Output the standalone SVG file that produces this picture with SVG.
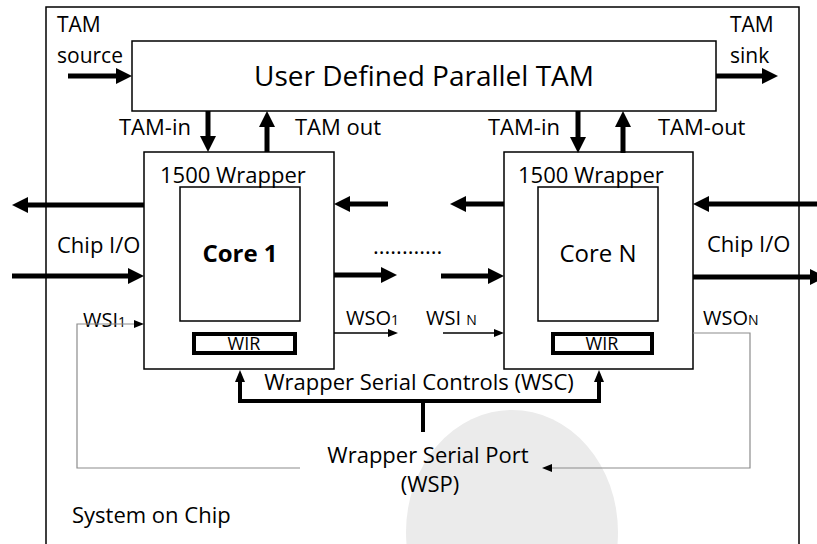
<svg xmlns="http://www.w3.org/2000/svg" width="817" height="544" viewBox="0 0 817 544">
<style>
text{font-family:"Open Sans","Liberation Sans",sans-serif;fill:#000}
.box{fill:none;stroke:#000;stroke-width:1.5}
.wir{fill:none;stroke:#000;stroke-width:4}
.thick{fill:none;stroke:#000;stroke-width:5}
.bus{fill:none;stroke:#000;stroke-width:4}
.thin{fill:none;stroke:#000;stroke-width:1.5}
.gray{fill:none;stroke:#8c8c8c;stroke-width:1.2}
.lbl{font-size:22px}
.sm{font-size:21px}
.sig{font-size:20px}
.sub{font-size:14px}
.mid{text-anchor:middle}
</style>
<defs>
<marker id="ah" viewBox="0 0 16 16" markerWidth="16" markerHeight="16" refX="2" refY="8" orient="auto" markerUnits="userSpaceOnUse"><path d="M0,0 L16,8 L0,16 z" fill="#000"/></marker>
<marker id="am" viewBox="0 0 12 10" markerWidth="12" markerHeight="10" refX="1" refY="5" orient="auto-start-reverse" markerUnits="userSpaceOnUse"><path d="M0,0 L12,5 L0,10 z" fill="#000"/></marker>
<marker id="at" viewBox="0 0 10 8" markerWidth="10" markerHeight="8" refX="1" refY="4" orient="auto" markerUnits="userSpaceOnUse"><path d="M0,0 L10,4 L0,8 z" fill="#000"/></marker>
</defs>
<rect width="817" height="544" fill="#fff"/>
<ellipse cx="512" cy="532" rx="106" ry="122" fill="#ebebeb"/>

<g id="soc">
<rect class="box" x="46" y="7" width="753" height="560"/>
<text class="lbl" x="72" y="523">System on Chip</text>
</g>

<g id="tam">
<rect class="box" x="132" y="41" width="584" height="70" fill="#fff"/>
<text class="mid" x="424" y="86" font-size="28">User Defined Parallel TAM</text>
</g>

<g id="labels">
<text class="sm" x="57" y="32">TAM</text>
<text class="sm" x="57" y="63">source</text>
<text class="sm" x="730" y="32">TAM</text>
<text class="sm" x="730" y="63">sink</text>
<text class="lbl" x="119" y="135">TAM-in</text>
<text class="lbl" x="295" y="135">TAM out</text>
<text class="lbl" x="488" y="135">TAM-in</text>
<text class="lbl" x="658" y="135">TAM-out</text>
<text class="lbl" x="57" y="253">Chip I/O</text>
<text class="lbl" x="707" y="252">Chip I/O</text>
<text class="lbl" x="373" y="254">............</text>
<text class="sig" x="83" y="327">WSI<tspan class="sub">1</tspan></text>
<text class="sig" x="346" y="325">WSO<tspan class="sub">1</tspan></text>
<text class="sig" x="426" y="325">WSI <tspan class="sub">N</tspan></text>
<text class="sig" x="703" y="325">WSO<tspan class="sub">N</tspan></text>
<text class="lbl mid" x="419" y="390">Wrapper Serial Controls (WSC)</text>
<text class="lbl mid" x="428" y="463">Wrapper Serial Port</text>
<text class="lbl mid" x="430" y="492">(WSP)</text>
</g>

<g id="core1">
<rect class="box" x="144" y="152" width="190" height="217" fill="#fff"/>
<text class="lbl" x="160" y="183">1500 Wrapper</text>
<rect class="box" x="180" y="187" width="120" height="134"/>
<text class="mid" x="240" y="262" font-size="24" font-weight="bold">Core 1</text>
<rect class="wir" x="194" y="334" width="101" height="19"/>
<text class="mid" x="244" y="350" font-size="18">WIR</text>
</g>

<g id="coreN">
<rect class="box" x="504" y="152" width="189" height="217" fill="#fff"/>
<text class="lbl" x="518" y="183">1500 Wrapper</text>
<rect class="box" x="538" y="187" width="120" height="134"/>
<text class="mid" x="598" y="262" font-size="24">Core N</text>
<rect class="wir" x="553" y="334" width="99" height="19"/>
<text class="mid" x="602" y="350" font-size="18">WIR</text>
</g>

<g id="connectors">
<path class="thick" d="M68,76 H118" marker-end="url(#ah)"/>
<path class="thick" d="M716,76 H764" marker-end="url(#ah)"/>
<path class="thick" d="M208,111 V138" marker-end="url(#ah)"/>
<path class="thick" d="M267,152 V125" marker-end="url(#ah)"/>
<path class="thick" d="M578,111 V139" marker-end="url(#ah)"/>
<path class="thick" d="M623,153 V125" marker-end="url(#ah)"/>
<path class="thick" d="M144,205 H26" marker-end="url(#ah)"/>
<path class="thick" d="M12,276 H130" marker-end="url(#ah)"/>
<path class="thick" d="M388,204 H348" marker-end="url(#ah)"/>
<path class="thick" d="M334,275 H383" marker-end="url(#ah)"/>
<path class="thick" d="M504,204 H464" marker-end="url(#ah)"/>
<path class="thick" d="M441,276 H490" marker-end="url(#ah)"/>
<path class="thick" d="M822,204 H707" marker-end="url(#ah)"/>
<path class="thick" d="M693,277 H812" marker-end="url(#ah)"/>
<path class="thin" d="M334,333 H389" marker-end="url(#at)"/>
<path class="thin" d="M443,333 H495" marker-end="url(#at)"/>
<path class="gray" d="M300,468 H77 V324 H135" marker-end="url(#at)"/>
<path class="gray" d="M693,333 H750 V468 H551" marker-end="url(#at)"/>
<path class="bus" d="M240,381 V401 H599 V381" marker-start="url(#am)" marker-end="url(#am)"/>
<path class="bus" d="M423,401 V432"/>
</g>
</svg>
